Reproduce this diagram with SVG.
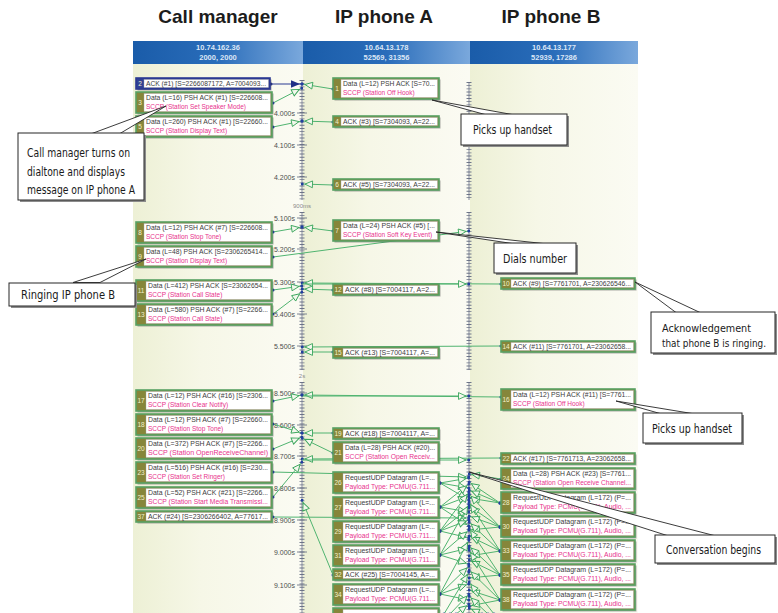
<svg xmlns="http://www.w3.org/2000/svg" width="778" height="613" viewBox="0 0 778 613">
<style>
.ttl{font:bold 19px "Liberation Sans",Arial,sans-serif;fill:#1c1c1c;text-anchor:middle}
.hd{font:bold 7.5px "Liberation Sans",Arial,sans-serif;fill:#dbe6f6;text-anchor:middle}
.rl{font:7px "Liberation Sans",Arial,sans-serif;fill:#4e4e4e;text-anchor:end}
.gp{font:6px "Liberation Sans",Arial,sans-serif;fill:#8a8a8a;text-anchor:middle}
.rm{stroke:#687083;stroke-width:.8}
.rk{stroke:#6e7689;stroke-width:5;stroke-dasharray:.9 2.3}
.rM{stroke:#6e7689;stroke-width:.9}
.sh{fill:#4a4a4a;opacity:.45}
.ob{fill:#86863a;stroke:#58a163;stroke-width:1.6}
.sel .ob{fill:#2f4094;stroke:#2b3892}
.wb{fill:#fff;stroke:#a3a3a3;stroke-width:.4}
.num{font:6.5px "Liberation Sans",Arial,sans-serif;fill:#f3f1cc;text-anchor:middle}
.t1{font:6.5px "Liberation Sans",Arial,sans-serif;fill:#3c3c3c}
.t2{font:6.5px "Liberation Sans",Arial,sans-serif;fill:#e8328c}
.c line{stroke:#50b470;stroke-width:1;fill:none;marker-start:url(#dot);marker-end:url(#ah)}
.c line.x{marker-start:none}
.c line.nv{stroke:#2b3a92;marker-start:url(#dotn);marker-end:url(#ahn)}
.cb{fill:#fff;stroke:#262626;stroke-width:1}
.cs{fill:#8c8c8c}
.tl{fill:#fff;stroke:#262626;stroke-width:.9;stroke-linejoin:miter}
.ct{font:12px "Liberation Sans Narrow","DejaVu Sans Condensed","Liberation Sans",Arial,sans-serif;fill:#1a1a1a}
.cts{font-size:11px}
</style>
<defs>
<linearGradient id="hg" x1="0" y1="0" x2="1" y2="0"><stop offset="0" stop-color="#1a5ca9"/><stop offset=".5" stop-color="#2a6dba"/><stop offset="1" stop-color="#7aa8dc"/></linearGradient>
<linearGradient id="bg" x1="0" y1="0" x2="1" y2="0"><stop offset="0" stop-color="#edf0d5"/><stop offset=".4" stop-color="#f6f7e7"/><stop offset="1" stop-color="#fbfbf3"/></linearGradient>
<marker id="ah" markerUnits="userSpaceOnUse" viewBox="0 0 14 10" markerWidth="14" markerHeight="10" refX="13" refY="5" orient="auto"><path d="M2.5,1.6 L10,5 L2.5,8.4 Z" fill="#f3f7ec" stroke="#3aa55c" stroke-width=".9"/><circle cx="12.8" cy="5" r="1.5" fill="#223f9e"/></marker>
<marker id="ahn" markerUnits="userSpaceOnUse" viewBox="0 0 14 10" markerWidth="14" markerHeight="10" refX="13" refY="5" orient="auto"><path d="M2,1.2 L11,5 L2,8.8 Z" fill="#1f2f86"/><circle cx="12.8" cy="5" r="1.5" fill="#223f9e"/></marker>
<marker id="dot" markerUnits="userSpaceOnUse" viewBox="0 0 4 4" markerWidth="4" markerHeight="4" refX="2" refY="2"><circle cx="2" cy="2" r="1.5" fill="#223f9e"/></marker>
<marker id="dotn" markerUnits="userSpaceOnUse" viewBox="0 0 4 4" markerWidth="4" markerHeight="4" refX="2" refY="2"><circle cx="2" cy="2" r="1.5" fill="#1f2f86"/></marker>
</defs>
<rect width="778" height="613" fill="#fff"/>
<g id="titles">
<text class="ttl" x="218" y="23">Call manager</text>
<text class="ttl" x="384" y="23">IP phone A</text>
<text class="ttl" x="551" y="23">IP phone B</text>
</g>
<g id="panel">
<rect x="133" y="64" width="170" height="549" fill="url(#bg)"/>
<rect x="303" y="64" width="167" height="549" fill="url(#bg)"/>
<rect x="470" y="64" width="168" height="549" fill="url(#bg)"/>
<rect x="133" y="41" width="170" height="23" fill="url(#hg)"/>
<rect x="303" y="41" width="167" height="23" fill="url(#hg)"/>
<rect x="470" y="41" width="168" height="23" fill="url(#hg)"/>
<text class="hd" x="218" y="50">10.74.162.36</text>
<text class="hd" x="218" y="59.5">2000, 2000</text>
<text class="hd" x="386.5" y="50">10.64.13.178</text>
<text class="hd" x="386.5" y="59.5">52569, 31356</text>
<text class="hd" x="554" y="50">10.64.13.177</text>
<text class="hd" x="554" y="59.5">52939, 17286</text>
</g>
<g id="rulers">
<line class="rk" x1="302" y1="80" x2="302" y2="200"/><line class="rm" x1="302" y1="80" x2="302" y2="200"/>
<line class="rk" x1="302" y1="212" x2="302" y2="370"/><line class="rm" x1="302" y1="212" x2="302" y2="370"/>
<line class="rk" x1="302" y1="382" x2="302" y2="613"/><line class="rm" x1="302" y1="382" x2="302" y2="613"/>
<line class="rk" x1="469" y1="82" x2="469" y2="200"/><line class="rm" x1="469" y1="82" x2="469" y2="200"/>
<line class="rk" x1="469" y1="212" x2="469" y2="370"/><line class="rm" x1="469" y1="212" x2="469" y2="370"/>
<line class="rk" x1="469" y1="382" x2="469" y2="613"/><line class="rm" x1="469" y1="382" x2="469" y2="613"/>
<path class="rM" d="M297,113H307M297,145H307M297,177H307M297,218H307M297,249H307M297,282H307M297,314H307M297,346H307M297,393H307M297,425H307M297,456H307M297,488H307M297,520H307M297,552H307M297,585H307"/>
<text class="rl" x="295" y="115.5">4.000s</text>
<text class="rl" x="295" y="147.5">4.100s</text>
<text class="rl" x="295" y="179.5">4.200s</text>
<text class="gp" x="302" y="208">900ms</text>
<text class="rl" x="295" y="220.5">5.100s</text>
<text class="rl" x="295" y="251.5">5.200s</text>
<text class="rl" x="295" y="284.5">5.300s</text>
<text class="rl" x="295" y="316.5">5.400s</text>
<text class="rl" x="295" y="348.5">5.500s</text>
<text class="gp" x="302" y="378">2s</text>
<text class="rl" x="295" y="395.5">8.500s</text>
<text class="rl" x="295" y="427.5">8.600s</text>
<text class="rl" x="295" y="458.5">8.700s</text>
<text class="rl" x="295" y="490.5">8.800s</text>
<text class="rl" x="295" y="522.5">8.900s</text>
<text class="rl" x="295" y="554.5">9.000s</text>
<text class="rl" x="295" y="587.5">9.100s</text>
</g>
<g id="connectors" class="c">
<line class="nv" x1="271" y1="84" x2="302" y2="84"/>
<line x1="333" y1="89" x2="302" y2="84"/>
<line x1="273" y1="103" x2="302" y2="88"/>
<line x1="273" y1="127" x2="302" y2="121"/>
<line x1="333" y1="122" x2="302" y2="121"/>
<line x1="333" y1="185" x2="302" y2="184"/>
<line x1="273" y1="232" x2="302" y2="227"/>
<line x1="333" y1="231" x2="302" y2="227"/>
<line x1="273" y1="257" x2="469" y2="231"/>
<line x1="273" y1="290" x2="302" y2="286"/>
<line x1="501" y1="284" x2="302" y2="283"/>
<line class="x" x1="302" y1="284" x2="469" y2="284"/>
<line x1="333" y1="290" x2="302" y2="289"/>
<line x1="273" y1="314" x2="302" y2="292"/>
<line x1="501" y1="346" x2="302" y2="347"/>
<line x1="333" y1="352" x2="302" y2="352"/>
<line x1="501" y1="397" x2="302" y2="395"/>
<line class="x" x1="302" y1="396" x2="469" y2="396"/>
<line x1="273" y1="401" x2="302" y2="395"/>
<line x1="273" y1="424" x2="302" y2="433"/>
<line x1="333" y1="433" x2="302" y2="433"/>
<line x1="273" y1="449" x2="302" y2="437"/>
<line x1="333" y1="453" x2="302" y2="438"/>
<line x1="501" y1="458" x2="302" y2="459"/>
<line class="x" x1="302" y1="460" x2="469" y2="460"/>
<line x1="273" y1="472" x2="469" y2="477"/>
<line x1="501" y1="479" x2="469" y2="474"/>
<line x1="273" y1="497" x2="302" y2="462"/>
<line x1="273" y1="517" x2="469" y2="518"/>
<line x1="333" y1="575" x2="302" y2="500"/>
<line x1="440" y1="483" x2="469" y2="478"/>
<line x1="440" y1="483" x2="469" y2="488"/>
<line x1="440" y1="483" x2="469" y2="500"/>
<line x1="440" y1="507" x2="469" y2="484"/>
<line x1="440" y1="507" x2="469" y2="496"/>
<line x1="440" y1="507" x2="469" y2="512"/>
<line x1="440" y1="507" x2="469" y2="526"/>
<line x1="440" y1="531" x2="469" y2="492"/>
<line x1="440" y1="531" x2="469" y2="508"/>
<line x1="440" y1="531" x2="469" y2="520"/>
<line x1="440" y1="531" x2="469" y2="538"/>
<line x1="440" y1="555" x2="469" y2="504"/>
<line x1="440" y1="555" x2="469" y2="530"/>
<line x1="440" y1="555" x2="469" y2="548"/>
<line x1="440" y1="555" x2="469" y2="564"/>
<line x1="440" y1="594" x2="469" y2="540"/>
<line x1="440" y1="594" x2="469" y2="566"/>
<line x1="440" y1="594" x2="469" y2="584"/>
<line x1="440" y1="594" x2="469" y2="600"/>
<line x1="500" y1="503" x2="469" y2="482"/>
<line x1="500" y1="503" x2="469" y2="490"/>
<line x1="500" y1="503" x2="469" y2="498"/>
<line x1="500" y1="527" x2="469" y2="494"/>
<line x1="500" y1="527" x2="469" y2="506"/>
<line x1="500" y1="527" x2="469" y2="516"/>
<line x1="500" y1="527" x2="469" y2="530"/>
<line x1="500" y1="551" x2="469" y2="502"/>
<line x1="500" y1="551" x2="469" y2="522"/>
<line x1="500" y1="551" x2="469" y2="536"/>
<line x1="500" y1="551" x2="469" y2="556"/>
<line x1="500" y1="575" x2="469" y2="528"/>
<line x1="500" y1="575" x2="469" y2="546"/>
<line x1="500" y1="575" x2="469" y2="560"/>
<line x1="500" y1="575" x2="469" y2="578"/>
<line x1="500" y1="600" x2="469" y2="550"/>
<line x1="500" y1="600" x2="469" y2="570"/>
<line x1="500" y1="600" x2="469" y2="590"/>
<line x1="500" y1="600" x2="469" y2="606"/>
<line x1="444" y1="614" x2="469" y2="572"/>
<line x1="450" y1="614" x2="469" y2="594"/>
<line x1="456" y1="614" x2="469" y2="604"/>
<line x1="494" y1="614" x2="469" y2="582"/>
<line x1="488" y1="614" x2="469" y2="596"/>
<line x1="482" y1="614" x2="469" y2="608"/>
</g>
<g id="nodes">
<g id="n2" class="sel" transform="translate(136,78)"><rect class="sh" x="1.5" y="1.5" width="134" height="11"/><rect class="ob" width="134" height="11"/><rect class="wb" x="8" y="1.5" width="124.5" height="8"/><text class="num" x="4" y="8.2">2</text><text class="t1" x="10" y="8.2" textLength="120" lengthAdjust="spacingAndGlyphs">ACK (#1) [S=2266087172, A=7004093...</text></g>
<g id="n3" transform="translate(136,92)"><rect class="sh" x="1.5" y="1.5" width="136" height="21"/><rect class="ob" width="136" height="21"/><rect class="wb" x="8" y="1.5" width="126.5" height="18"/><text class="num" x="4" y="13.2">3</text><text class="t1" x="10" y="8.3" textLength="122" lengthAdjust="spacingAndGlyphs">Data (L=16) PSH ACK (#1) [S=226608...</text><text class="t2" x="10" y="16.8">SCCP (Station Set Speaker Mode)</text></g>
<g id="n5" transform="translate(136,116)"><rect class="sh" x="1.5" y="1.5" width="136" height="21"/><rect class="ob" width="136" height="21"/><rect class="wb" x="8" y="1.5" width="126.5" height="18"/><text class="num" x="4" y="13.2">5</text><text class="t1" x="10" y="8.3" textLength="122" lengthAdjust="spacingAndGlyphs">Data (L=260) PSH ACK (#1) [S=22660...</text><text class="t2" x="10" y="16.8">SCCP (Station Display Text)</text></g>
<g id="n8" transform="translate(136,222)"><rect class="sh" x="1.5" y="1.5" width="136" height="21"/><rect class="ob" width="136" height="21"/><rect class="wb" x="8" y="1.5" width="126.5" height="18"/><text class="num" x="4" y="13.2">8</text><text class="t1" x="10" y="8.3" textLength="122" lengthAdjust="spacingAndGlyphs">Data (L=12) PSH ACK (#7) [S=226608...</text><text class="t2" x="10" y="16.8">SCCP (Station Stop Tone)</text></g>
<g id="n9" transform="translate(136,246)"><rect class="sh" x="1.5" y="1.5" width="136" height="21"/><rect class="ob" width="136" height="21"/><rect class="wb" x="8" y="1.5" width="126.5" height="18"/><text class="num" x="4" y="13.2">9</text><text class="t1" x="10" y="8.3" textLength="122" lengthAdjust="spacingAndGlyphs">Data (L=48) PSH ACK [S=2306265414...</text><text class="t2" x="10" y="16.8">SCCP (Station Display Text)</text></g>
<g id="n11" transform="translate(136,280)"><rect class="sh" x="1.5" y="1.5" width="136" height="21"/><rect class="ob" width="136" height="21"/><rect class="wb" x="10" y="1.5" width="124.5" height="18"/><text class="num" x="5" y="13.2">11</text><text class="t1" x="12" y="8.3" textLength="120" lengthAdjust="spacingAndGlyphs">Data (L=412) PSH ACK [S=23062654...</text><text class="t2" x="12" y="16.8">SCCP (Station Call State)</text></g>
<g id="n13" transform="translate(136,304)"><rect class="sh" x="1.5" y="1.5" width="136" height="21"/><rect class="ob" width="136" height="21"/><rect class="wb" x="10" y="1.5" width="124.5" height="18"/><text class="num" x="5" y="13.2">13</text><text class="t1" x="12" y="8.3" textLength="120" lengthAdjust="spacingAndGlyphs">Data (L=580) PSH ACK (#7) [S=2266...</text><text class="t2" x="12" y="16.8">SCCP (Station Call State)</text></g>
<g id="n17" transform="translate(136,390)"><rect class="sh" x="1.5" y="1.5" width="136" height="21"/><rect class="ob" width="136" height="21"/><rect class="wb" x="10" y="1.5" width="124.5" height="18"/><text class="num" x="5" y="13.2">17</text><text class="t1" x="12" y="8.3" textLength="120" lengthAdjust="spacingAndGlyphs">Data (L=12) PSH ACK (#16) [S=2306...</text><text class="t2" x="12" y="16.8">SCCP (Station Clear Notify)</text></g>
<g id="n18" transform="translate(136,414)"><rect class="sh" x="1.5" y="1.5" width="136" height="21"/><rect class="ob" width="136" height="21"/><rect class="wb" x="10" y="1.5" width="124.5" height="18"/><text class="num" x="5" y="13.2">18</text><text class="t1" x="12" y="8.3" textLength="120" lengthAdjust="spacingAndGlyphs">Data (L=12) PSH ACK (#7) [S=22660...</text><text class="t2" x="12" y="16.8">SCCP (Station Stop Tone)</text></g>
<g id="n20" transform="translate(136,438)"><rect class="sh" x="1.5" y="1.5" width="136" height="21"/><rect class="ob" width="136" height="21"/><rect class="wb" x="10" y="1.5" width="124.5" height="18"/><text class="num" x="5" y="13.2">20</text><text class="t1" x="12" y="8.3" textLength="120" lengthAdjust="spacingAndGlyphs">Data (L=372) PSH ACK (#7) [S=2266...</text><text class="t2" x="12" y="16.8" textLength="120" lengthAdjust="spacingAndGlyphs">SCCP (Station OpenReceiveChannel)</text></g>
<g id="n23" transform="translate(136,462)"><rect class="sh" x="1.5" y="1.5" width="136" height="21"/><rect class="ob" width="136" height="21"/><rect class="wb" x="10" y="1.5" width="124.5" height="18"/><text class="num" x="5" y="13.2">23</text><text class="t1" x="12" y="8.3" textLength="120" lengthAdjust="spacingAndGlyphs">Data (L=516) PSH ACK (#16) [S=230...</text><text class="t2" x="12" y="16.8">SCCP (Station Set Ringer)</text></g>
<g id="n25" transform="translate(136,487)"><rect class="sh" x="1.5" y="1.5" width="136" height="21"/><rect class="ob" width="136" height="21"/><rect class="wb" x="10" y="1.5" width="124.5" height="18"/><text class="num" x="5" y="13.2">25</text><text class="t1" x="12" y="8.3" textLength="120" lengthAdjust="spacingAndGlyphs">Data (L=52) PSH ACK (#21) [S=2266...</text><text class="t2" x="12" y="16.8" textLength="120" lengthAdjust="spacingAndGlyphs">SCCP (Station Start Media Transmissi...</text></g>
<g id="n37" transform="translate(136,511)"><rect class="sh" x="1.5" y="1.5" width="136" height="11"/><rect class="ob" width="136" height="11"/><rect class="wb" x="10" y="1.5" width="124.5" height="8"/><text class="num" x="5" y="8.2">37</text><text class="t1" x="12" y="8.2" textLength="120" lengthAdjust="spacingAndGlyphs">ACK (#24) [S=2306266402, A=77617...</text></g>

<g id="n1" transform="translate(333,78)"><rect class="sh" x="1.5" y="1.5" width="106" height="21"/><rect class="ob" width="106" height="21"/><rect class="wb" x="8" y="1.5" width="96.5" height="18"/><text class="num" x="4" y="13.2">1</text><text class="t1" x="10" y="8.3" textLength="92" lengthAdjust="spacingAndGlyphs">Data (L=12) PSH ACK [S=70...</text><text class="t2" x="10" y="16.8">SCCP (Station Off Hook)</text></g>
<g id="n4" transform="translate(333,116)"><rect class="sh" x="1.5" y="1.5" width="106" height="11"/><rect class="ob" width="106" height="11"/><rect class="wb" x="8" y="1.5" width="96.5" height="8"/><text class="num" x="4" y="8.2">4</text><text class="t1" x="10" y="8.2" textLength="92" lengthAdjust="spacingAndGlyphs">ACK (#3) [S=7304093, A=22...</text></g>
<g id="n6" transform="translate(333,179)"><rect class="sh" x="1.5" y="1.5" width="106" height="11"/><rect class="ob" width="106" height="11"/><rect class="wb" x="8" y="1.5" width="96.5" height="8"/><text class="num" x="4" y="8.2">6</text><text class="t1" x="10" y="8.2" textLength="92" lengthAdjust="spacingAndGlyphs">ACK (#5) [S=7304093, A=22...</text></g>
<g id="n7" transform="translate(333,220)"><rect class="sh" x="1.5" y="1.5" width="106" height="21"/><rect class="ob" width="106" height="21"/><rect class="wb" x="8" y="1.5" width="96.5" height="18"/><text class="num" x="4" y="13.2">7</text><text class="t1" x="10" y="8.3" textLength="92" lengthAdjust="spacingAndGlyphs">Data (L=24) PSH ACK (#5) [...</text><text class="t2" x="10" y="16.8">SCCP (Station Soft Key Event)</text></g>
<g id="n12" transform="translate(333,284)"><rect class="sh" x="1.5" y="1.5" width="106" height="11"/><rect class="ob" width="106" height="11"/><rect class="wb" x="10" y="1.5" width="94.5" height="8"/><text class="num" x="5" y="8.2">12</text><text class="t1" x="12" y="8.2" textLength="90" lengthAdjust="spacingAndGlyphs">ACK (#8) [S=7004117, A=2...</text></g>
<g id="n15" transform="translate(333,347)"><rect class="sh" x="1.5" y="1.5" width="106" height="11"/><rect class="ob" width="106" height="11"/><rect class="wb" x="10" y="1.5" width="94.5" height="8"/><text class="num" x="5" y="8.2">15</text><text class="t1" x="12" y="8.2" textLength="90" lengthAdjust="spacingAndGlyphs">ACK (#13) [S=7004117, A=...</text></g>
<g id="n19" transform="translate(333,428)"><rect class="sh" x="1.5" y="1.5" width="106" height="11"/><rect class="ob" width="106" height="11"/><rect class="wb" x="10" y="1.5" width="94.5" height="8"/><text class="num" x="5" y="8.2">19</text><text class="t1" x="12" y="8.2" textLength="90" lengthAdjust="spacingAndGlyphs">ACK (#18) [S=7004117, A=...</text></g>
<g id="n21" transform="translate(333,442)"><rect class="sh" x="1.5" y="1.5" width="106" height="21"/><rect class="ob" width="106" height="21"/><rect class="wb" x="10" y="1.5" width="94.5" height="18"/><text class="num" x="5" y="13.2">21</text><text class="t1" x="12" y="8.3" textLength="90" lengthAdjust="spacingAndGlyphs">Data (L=28) PSH ACK (#20)...</text><text class="t2" x="12" y="16.8" textLength="90" lengthAdjust="spacingAndGlyphs">SCCP (Station Open Receiv...</text></g>
<g id="n26" transform="translate(333,472)"><rect class="sh" x="1.5" y="1.5" width="106" height="21"/><rect class="ob" width="106" height="21"/><rect class="wb" x="10" y="1.5" width="94.5" height="18"/><text class="num" x="5" y="13.2">26</text><text class="t1" x="12" y="8.3" textLength="90" lengthAdjust="spacingAndGlyphs">RequestUDP Datagram (L=...</text><text class="t2" x="12" y="16.8" textLength="90" lengthAdjust="spacingAndGlyphs">Payload Type: PCMU(G.711...</text></g>
<g id="n27" transform="translate(333,497)"><rect class="sh" x="1.5" y="1.5" width="106" height="21"/><rect class="ob" width="106" height="21"/><rect class="wb" x="10" y="1.5" width="94.5" height="18"/><text class="num" x="5" y="13.2">27</text><text class="t1" x="12" y="8.3" textLength="90" lengthAdjust="spacingAndGlyphs">RequestUDP Datagram (L=...</text><text class="t2" x="12" y="16.8" textLength="90" lengthAdjust="spacingAndGlyphs">Payload Type: PCMU(G.711...</text></g>
<g id="n29" transform="translate(333,521)"><rect class="sh" x="1.5" y="1.5" width="106" height="21"/><rect class="ob" width="106" height="21"/><rect class="wb" x="10" y="1.5" width="94.5" height="18"/><text class="num" x="5" y="13.2">29</text><text class="t1" x="12" y="8.3" textLength="90" lengthAdjust="spacingAndGlyphs">RequestUDP Datagram (L=...</text><text class="t2" x="12" y="16.8" textLength="90" lengthAdjust="spacingAndGlyphs">Payload Type: PCMU(G.711...</text></g>
<g id="n31" transform="translate(333,545)"><rect class="sh" x="1.5" y="1.5" width="106" height="21"/><rect class="ob" width="106" height="21"/><rect class="wb" x="10" y="1.5" width="94.5" height="18"/><text class="num" x="5" y="13.2">31</text><text class="t1" x="12" y="8.3" textLength="90" lengthAdjust="spacingAndGlyphs">RequestUDP Datagram (L=...</text><text class="t2" x="12" y="16.8" textLength="90" lengthAdjust="spacingAndGlyphs">Payload Type: PCMU(G.711...</text></g>
<g id="n32" transform="translate(333,569)"><rect class="sh" x="1.5" y="1.5" width="106" height="11"/><rect class="ob" width="106" height="11"/><rect class="wb" x="10" y="1.5" width="94.5" height="8"/><text class="num" x="5" y="8.2">32</text><text class="t1" x="12" y="8.2" textLength="90" lengthAdjust="spacingAndGlyphs">ACK (#25) [S=7004145, A=...</text></g>
<g id="n34" transform="translate(333,584)"><rect class="sh" x="1.5" y="1.5" width="106" height="21"/><rect class="ob" width="106" height="21"/><rect class="wb" x="10" y="1.5" width="94.5" height="18"/><text class="num" x="5" y="13.2">34</text><text class="t1" x="12" y="8.3" textLength="90" lengthAdjust="spacingAndGlyphs">RequestUDP Datagram (L=...</text><text class="t2" x="12" y="16.8" textLength="90" lengthAdjust="spacingAndGlyphs">Payload Type: PCMU(G.711...</text></g>
<g id="n36" transform="translate(333,608)"><rect class="sh" x="1.5" y="1.5" width="106" height="21"/><rect class="ob" width="106" height="21"/><rect class="wb" x="10" y="1.5" width="94.5" height="18"/></g>

<g id="n10" transform="translate(501,278)"><rect class="sh" x="1.5" y="1.5" width="134" height="11"/><rect class="ob" width="134" height="11"/><rect class="wb" x="10" y="1.5" width="122.5" height="8"/><text class="num" x="5" y="8.2">10</text><text class="t1" x="12" y="8.2" textLength="118" lengthAdjust="spacingAndGlyphs">ACK (#9) [S=7761701, A=230626546...</text></g>
<g id="n14" transform="translate(501,341)"><rect class="sh" x="1.5" y="1.5" width="134" height="11"/><rect class="ob" width="134" height="11"/><rect class="wb" x="10" y="1.5" width="122.5" height="8"/><text class="num" x="5" y="8.2">14</text><text class="t1" x="12" y="8.2" textLength="118" lengthAdjust="spacingAndGlyphs">ACK (#11) [S=7761701, A=23062658...</text></g>
<g id="n16" transform="translate(501,389)"><rect class="sh" x="1.5" y="1.5" width="134" height="21"/><rect class="ob" width="134" height="21"/><rect class="wb" x="10" y="1.5" width="122.5" height="18"/><text class="num" x="5" y="13.2">16</text><text class="t1" x="12" y="8.3" textLength="118" lengthAdjust="spacingAndGlyphs">Data (L=12) PSH ACK (#11) [S=7761...</text><text class="t2" x="12" y="16.8">SCCP (Station Off Hook)</text></g>
<g id="n22" transform="translate(501,453)"><rect class="sh" x="1.5" y="1.5" width="134" height="11"/><rect class="ob" width="134" height="11"/><rect class="wb" x="10" y="1.5" width="122.5" height="8"/><text class="num" x="5" y="8.2">22</text><text class="t1" x="12" y="8.2" textLength="118" lengthAdjust="spacingAndGlyphs">ACK (#17) [S=7761713, A=23062658...</text></g>
<g id="n24" transform="translate(501,468)"><rect class="sh" x="1.5" y="1.5" width="134" height="21"/><rect class="ob" width="134" height="21"/><rect class="wb" x="10" y="1.5" width="122.5" height="18"/><text class="num" x="5" y="13.2">24</text><text class="t1" x="12" y="8.3" textLength="118" lengthAdjust="spacingAndGlyphs">Data (L=28) PSH ACK (#23) [S=7761...</text><text class="t2" x="12" y="16.8" textLength="118" lengthAdjust="spacingAndGlyphs">SCCP (Station Open Receive Channel...</text></g>
<g id="n28" transform="translate(501,492)"><rect class="sh" x="1.5" y="1.5" width="134" height="21"/><rect class="ob" width="134" height="21"/><rect class="wb" x="10" y="1.5" width="122.5" height="18"/><text class="num" x="5" y="13.2">28</text><text class="t1" x="12" y="8.3" textLength="118" lengthAdjust="spacingAndGlyphs">RequestUDP Datagram (L=172) (P=...</text><text class="t2" x="12" y="16.8" textLength="118" lengthAdjust="spacingAndGlyphs">Payload Type: PCMU(G.711), Audio, ...</text></g>
<g id="n30" transform="translate(501,516)"><rect class="sh" x="1.5" y="1.5" width="134" height="21"/><rect class="ob" width="134" height="21"/><rect class="wb" x="10" y="1.5" width="122.5" height="18"/><text class="num" x="5" y="13.2">30</text><text class="t1" x="12" y="8.3" textLength="118" lengthAdjust="spacingAndGlyphs">RequestUDP Datagram (L=172) (P=...</text><text class="t2" x="12" y="16.8" textLength="118" lengthAdjust="spacingAndGlyphs">Payload Type: PCMU(G.711), Audio, ...</text></g>
<g id="n33" transform="translate(501,540)"><rect class="sh" x="1.5" y="1.5" width="134" height="21"/><rect class="ob" width="134" height="21"/><rect class="wb" x="10" y="1.5" width="122.5" height="18"/><text class="num" x="5" y="13.2">33</text><text class="t1" x="12" y="8.3" textLength="118" lengthAdjust="spacingAndGlyphs">RequestUDP Datagram (L=172) (P=...</text><text class="t2" x="12" y="16.8" textLength="118" lengthAdjust="spacingAndGlyphs">Payload Type: PCMU(G.711), Audio, ...</text></g>
<g id="n35" transform="translate(501,564)"><rect class="sh" x="1.5" y="1.5" width="134" height="21"/><rect class="ob" width="134" height="21"/><rect class="wb" x="10" y="1.5" width="122.5" height="18"/><text class="num" x="5" y="13.2">35</text><text class="t1" x="12" y="8.3" textLength="118" lengthAdjust="spacingAndGlyphs">RequestUDP Datagram (L=172) (P=...</text><text class="t2" x="12" y="16.8" textLength="118" lengthAdjust="spacingAndGlyphs">Payload Type: PCMU(G.711), Audio, ...</text></g>
<g id="n38" transform="translate(501,589)"><rect class="sh" x="1.5" y="1.5" width="134" height="21"/><rect class="ob" width="134" height="21"/><rect class="wb" x="10" y="1.5" width="122.5" height="18"/><text class="num" x="5" y="13.2">38</text><text class="t1" x="12" y="8.3" textLength="118" lengthAdjust="spacingAndGlyphs">RequestUDP Datagram (L=172) (P=...</text><text class="t2" x="12" y="16.8" textLength="118" lengthAdjust="spacingAndGlyphs">Payload Type: PCMU(G.711), Audio, ...</text></g>
</g>
<g id="callouts">
<g id="co-cm">
<polygon class="tl" points="92,133.5 166,106 120,133.5"/>
<rect class="cs" x="20" y="135" width="126" height="67"/>
<rect class="cb" x="18" y="133" width="126" height="67"/>
<text class="ct" x="27" y="157" textLength="103" lengthAdjust="spacingAndGlyphs">Call manager turns on</text>
<text class="ct" x="27" y="176" textLength="98" lengthAdjust="spacingAndGlyphs">dialtone and displays</text>
<text class="ct" x="27" y="194" textLength="108" lengthAdjust="spacingAndGlyphs">message on IP phone A</text>
</g>
<g id="co-ring">
<polygon class="tl" points="73,282.5 146,259 100,282.5"/>
<rect class="cs" x="11" y="285" width="126" height="23"/>
<rect class="cb" x="9" y="283" width="126" height="23"/>
<text class="ct" x="21" y="299" textLength="94" lengthAdjust="spacingAndGlyphs">Ringing IP phone B</text>
</g>
<g id="co-pick1">
<polygon class="tl" points="485,114.5 432,100 512,114.5"/>
<rect class="cs" x="463" y="116" width="106" height="31"/>
<rect class="cb" x="461" y="114" width="106" height="31"/>
<text class="ct" x="473" y="134" textLength="79" lengthAdjust="spacingAndGlyphs">Picks up handset</text>
</g>
<g id="co-dial">
<polygon class="tl" points="512,243.5 436,232 543,243.5"/>
<rect class="cs" x="496" y="245" width="82" height="30"/>
<rect class="cb" x="494" y="243" width="82" height="30"/>
<text class="ct" x="503" y="263" textLength="64" lengthAdjust="spacingAndGlyphs">Dials number</text>
</g>
<g id="co-ack">
<polygon class="tl" points="676,312.5 635,282 700,312.5"/>
<rect class="cs" x="653" y="314" width="124" height="41"/>
<rect class="cb" x="651" y="312" width="124" height="41"/>
<text class="ct cts" x="662" y="332" textLength="89" lengthAdjust="spacingAndGlyphs">Acknowledgement</text>
<text class="ct cts" x="662" y="347" textLength="104" lengthAdjust="spacingAndGlyphs">that phone B is ringing.</text>
</g>
<g id="co-pick2">
<polygon class="tl" points="660,413.5 616,401 692,413.5"/>
<rect class="cs" x="645" y="415" width="99" height="30"/>
<rect class="cb" x="643" y="413" width="99" height="30"/>
<text class="ct" x="652" y="433" textLength="80" lengthAdjust="spacingAndGlyphs">Picks up handset</text>
</g>
<g id="co-conv">
<polygon class="tl" points="667,535.5 469,472 714,535.5"/>
<rect class="cs" x="657" y="537" width="120" height="28"/>
<rect class="cb" x="655" y="535" width="120" height="28"/>
<text class="ct" x="666" y="554" textLength="95" lengthAdjust="spacingAndGlyphs">Conversation begins</text>
</g>
</g>
</svg>
